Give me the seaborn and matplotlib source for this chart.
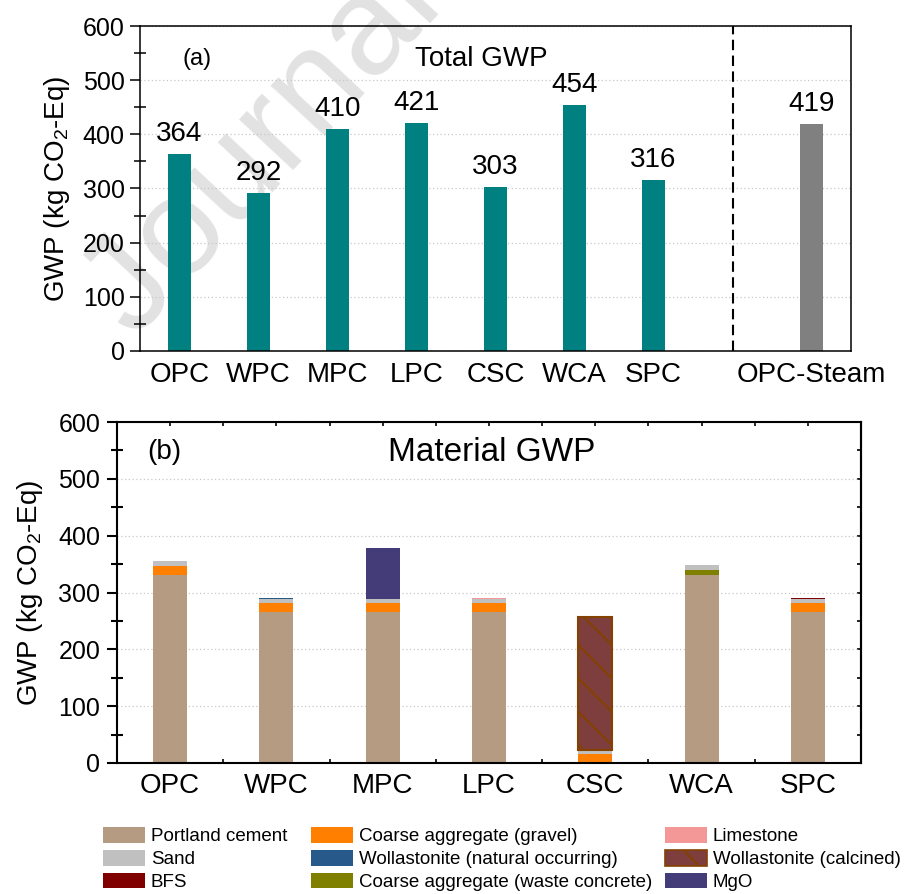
import matplotlib
matplotlib.use("Agg")
import numpy as np
import pandas as pd
import matplotlib.pyplot as plt
import seaborn as sns
from matplotlib.patches import Patch
from matplotlib.ticker import MultipleLocator

# ---------------- data ----------------
mixes = ["OPC", "WPC", "MPC", "LPC", "CSC", "WCA", "SPC"]
total_gwp = [364, 292, 410, 421, 303, 454, 316]
steam_label = "OPC-Steam"
steam_gwp = [419]

portland_cement = [330, 265, 265, 265, 0, 330, 265]
gravel = [16, 16, 16, 16, 16, 0, 16]
waste_concrete = [0, 0, 0, 0, 0, 10, 0]
sand = [9, 7, 7, 7, 7, 9, 7]
limestone = [0, 0, 0, 3, 0, 0, 0]
woll_natural = [0, 3, 0, 0, 0, 0, 0]
bfs = [0, 0, 0, 0, 0, 0, 3]
mgo = [0, 0, 91, 0, 0, 0, 0]
woll_calcined = [0, 0, 0, 0, 234, 0, 0]

# stacking order, bottom -> top
comp_names = ["Portland cement", "Coarse aggregate (gravel)", "Coarse aggregate (waste concrete)",
              "Sand", "Limestone", "Wollastonite (natural occurring)", "BFS", "MgO",
              "Wollastonite (calcined)"]
comp_values = [portland_cement, gravel, waste_concrete, sand, limestone, woll_natural, bfs, mgo,
               woll_calcined]
comp_colors = {
    "Portland cement": "#B59B81",
    "Coarse aggregate (gravel)": "#FF8000",
    "Coarse aggregate (waste concrete)": "#808000",
    "Sand": "#C0C0C0",
    "Limestone": "#F49797",
    "Wollastonite (natural occurring)": "#275A8B",
    "BFS": "#800000",
    "MgO": "#433C78",
    "Wollastonite (calcined)": "#7E3E3E",
}
legend_cols = [
    ["Portland cement", "Sand", "BFS"],
    ["Coarse aggregate (gravel)", "Wollastonite (natural occurring)", "Coarse aggregate (waste concrete)"],
    ["Limestone", "Wollastonite (calcined)", "MgO"],
]

# ---------------- style ----------------
sns.set_theme(style="white")
plt.rcParams["font.family"] = ["Liberation Sans", "DejaVu Sans"]
plt.rcParams["mathtext.default"] = "regular"
plt.rcParams["axes.edgecolor"] = "black"
plt.rcParams["xtick.color"] = "black"
plt.rcParams["ytick.color"] = "black"
plt.rcParams["text.color"] = "black"
plt.rcParams["axes.labelcolor"] = "black"
plt.rcParams["hatch.linewidth"] = 1.5

W, H = 913, 894
fig = plt.figure(figsize=(W / 100, H / 100), dpi=100)
fig.patch.set_facecolor("white")

# watermark (behind the axes)
fig.text(135 / W, 1 - 340 / H, "Journal Pre-proof", fontsize=100, color="#e2e2e2",
         rotation=47, rotation_mode="anchor", ha="left", va="baseline", zorder=-10)

ax1 = fig.add_axes([140 / W, 1 - 351 / H, 711 / W, 325 / H])
ax2 = fig.add_axes([117 / W, 1 - 763 / H, 744 / W, 341 / H])
for ax in (ax1, ax2):
    ax.set_facecolor("none")

ylabel = "GWP (kg CO$_{2}$-Eq)"

# ---------------- panel (a) ----------------
df_a = pd.DataFrame({"mix": mixes + [steam_label], "gwp": total_gwp + steam_gwp})
gap = " "
order_a = mixes + [gap, steam_label]
pal_a = {m: "#008080" for m in mixes}
pal_a[steam_label] = "#808080"
sns.barplot(data=df_a, x="mix", y="gwp", hue="mix", order=order_a, palette=pal_a,
            width=0.28, saturation=1, legend=False, ax=ax1, linewidth=0)
for cont in ax1.containers:
    ax1.bar_label(cont, fmt="%d", padding=5, fontsize=20)
ax1.axvline(order_a.index(gap), color="black", lw=1.5, ls=(0, (5, 2.6)))
ax1.set_xlim(-0.5, len(order_a) - 0.5)
ax1.set_ylim(0, 600)
ax1.yaxis.set_major_locator(MultipleLocator(100))
ax1.yaxis.set_minor_locator(MultipleLocator(50))
ax1.tick_params(axis="y", which="major", direction="out", length=7, width=1.1, labelsize=18, pad=4,
                left=True)
ax1.tick_params(axis="y", which="minor", direction="inout", length=8, width=1.1, left=True)
ax1.tick_params(axis="x", length=0, labelsize=20, pad=8)
ax1.set_xlabel("")
ax1.set_ylabel(ylabel, fontsize=20)
ax1.yaxis.set_label_coords(-0.095, 0.5)
ax1.grid(axis="y", ls=(0, (1, 2)), color="#c8c8c8", lw=0.9)
ax1.set_axisbelow(True)
for s in ax1.spines.values():
    s.set_linewidth(1.1)
    s.set_visible(True)
ax1.text(0.06, 0.90, "(a)", transform=ax1.transAxes, fontsize=17, va="center", ha="left")
ax1.text(0.48, 0.90, "Total GWP", transform=ax1.transAxes, fontsize=20, va="center", ha="center")

# ---------------- panel (b) ----------------
rows = []
for name, vals in zip(comp_names, comp_values):
    for m, v in zip(mixes, vals):
        rows.append({"mix": m, "component": name, "value": v})
df_b = pd.DataFrame(rows)
# seaborn stacks the last hue level at the bottom
sns.histplot(data=df_b, x="mix", weights="value", hue="component", hue_order=comp_names[::-1],
             multiple="stack", discrete=True, shrink=0.32, palette=comp_colors, alpha=1,
             linewidth=0, legend=False, ax=ax2)
calc_rgb = matplotlib.colors.to_rgb(comp_colors["Wollastonite (calcined)"])
for p in ax2.patches:
    if np.allclose(p.get_facecolor()[:3], calc_rgb, atol=0.01) and p.get_height() > 0:
        p.set_hatch("\\")
        p.set_edgecolor("#844100")
        p.set_linewidth(1.5)
ax2.set_xlim(-0.5, len(mixes) - 0.5)
ax2.set_ylim(0, 600)
ax2.set_xticks(range(len(mixes)))
ax2.set_xticklabels(mixes)
ax2.xaxis.set_minor_locator(MultipleLocator(0.5))
ax2.yaxis.set_major_locator(MultipleLocator(100))
ax2.yaxis.set_minor_locator(MultipleLocator(50))
ax2.tick_params(axis="x", which="both", direction="in", length=3, width=1.2, top=True,
                bottom=True, labelsize=20, pad=7)
ax2.tick_params(axis="y", which="major", direction="out", length=7, width=1.5, labelsize=18,
                pad=5, left=True)
ax2.tick_params(axis="y", which="minor", direction="inout", length=9, width=1.5, left=True)
sec = ax2.secondary_yaxis("right")
sec.set_yticks(np.arange(0, 601, 50))
sec.tick_params(direction="in", length=3, width=1.2, labelright=False)
sec.spines["right"].set_linewidth(1.5)
ax2.set_xlabel("")
ax2.set_ylabel(ylabel, fontsize=20)
ax2.yaxis.set_label_coords(-0.097, 0.5)
ax2.grid(axis="y", ls=(0, (1, 2)), color="#c8c8c8", lw=0.9)
ax2.set_axisbelow(True)
for s in ax2.spines.values():
    s.set_linewidth(1.5)
    s.set_visible(True)
ax2.text(0.04, 0.912, "(b)", transform=ax2.transAxes, fontsize=20, va="center", ha="left")
ax2.text(0.504, 0.912, "Material GWP", transform=ax2.transAxes, fontsize=24, va="center",
         ha="center")

# ---------------- legends ----------------
col_x = [103, 311, 665]
for cx, names in zip(col_x, legend_cols):
    handles = []
    for n in names:
        if n == "Wollastonite (calcined)":
            handles.append(Patch(facecolor=comp_colors[n], edgecolor="#844100", hatch="\\",
                                 linewidth=1.2))
        else:
            handles.append(Patch(facecolor=comp_colors[n], edgecolor="none"))
    fig.legend(handles, names, loc="upper left", bbox_to_anchor=(cx / W, 1 - 827 / H),
               frameon=False, fontsize=13.5, handlelength=2.24, handleheight=0.9,
               handletextpad=0.3, labelspacing=0.25, borderpad=0, borderaxespad=0)

fig.savefig("out.png", dpi=100)
